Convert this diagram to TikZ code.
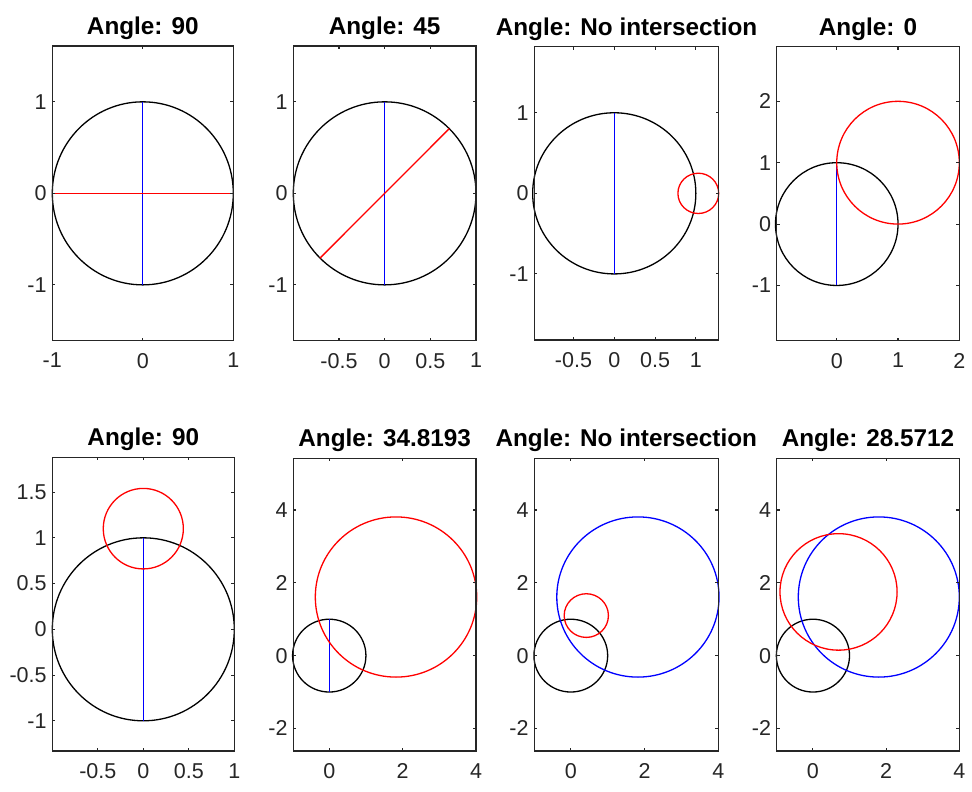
\documentclass[tikz,border=0pt]{standalone}
\usepackage{fontspec}
\setmainfont{Liberation Sans}
\definecolor{axgray}{RGB}{38,38,38}
\definecolor{pblue}{RGB}{0,0,255}
\definecolor{pred}{RGB}{255,0,0}
\tikzset{
  axbox/.style={draw=axgray, line width=1.1pt},
  ticklab/.style={inner sep=0pt, text=axgray, font=\fontsize{21.5}{22}\selectfont},
  titlelab/.style={inner sep=0pt, text=black, anchor=base, font=\fontsize{24.3}{25}\selectfont\bfseries},
  kcirc/.style={draw=black, line width=1.3pt},
  rcirc/.style={draw=pred, line width=1.3pt},
  bcirc/.style={draw=pblue, line width=1.3pt},
}
\newcommand{\setpanel}[8]{%
  \def\XA{#5}\def\XB{#6}\def\YA{#7}\def\YB{#8}%
  \pgfmathsetmacro\SX{((#2)-(#1))/((#6)-(#5))}%
  \pgfmathsetmacro\SY{((#4)-(#3))/((#8)-(#7))}%
  \pgfmathsetmacro\OX{(#1)-(#5)*\SX}%
  \pgfmathsetmacro\OY{(#4)+(#7)*\SY}%
}
\newcommand{\axesdecor}[4]{%
  \draw[axbox] (\XA,\YA) rectangle (\XB,\YB);
  \foreach \t [count=\i] in {#2} {
    \draw[axbox] (\t,\YA) -- ++(0pt,3pt);
    \draw[axbox] (\t,\YB) -- ++(0pt,-3pt);
    \node[ticklab, anchor=north, yshift=-12.3pt] (#1x\i) at (\t,\YA) {\t};
  }
  \foreach \t [count=\i] in {#3} {
    \draw[axbox] (\XA,\t) -- ++(3pt,0pt);
    \draw[axbox] (\XB,\t) -- ++(-3pt,0pt);
    \node[ticklab, anchor=east, xshift=-5.5pt] (#1y\i) at (\XA,\t) {\t};
  }
  \node[titlelab, yshift=11.4pt] (#1t) at ({(\XA+\XB)/2},\YB) {#4};
}
\begin{document}
\begin{tikzpicture}[x=1pt,y=-1pt]
\fill[white] (0,0) rectangle (972,792);
\useasboundingbox (0,0) rectangle (972,792);

% Panel 1
\setpanel{52.3}{233.3}{46}{340.7}{-1}{1}{-1.61}{1.61}
\begin{scope}[shift={(\OX,\OY)}, x=\SX pt, y=\SY pt]
  \draw[kcirc] (0,0) circle (1);
  \draw[bcirc] (0,-1) -- (0,1);
  \draw[rcirc] (-1,0) -- (1,0);
  \axesdecor{pa}{-1,0,1}{-1,0,1}{Angle: 90}
\end{scope}

% Panel 2
\setpanel{293.3}{476}{46}{340.7}{-1}{1}{-1.61}{1.61}
\begin{scope}[shift={(\OX,\OY)}, x=\SX pt, y=\SY pt]
  \draw[kcirc] (0,0) circle (1);
  \draw[bcirc] (0,-1) -- (0,1);
  \draw[rcirc] (-0.7071,-0.7071) -- (0.7071,0.7071);
  \axesdecor{pb}{-0.5,0,0.5,1}{-1,0,1}{Angle: 45}
\end{scope}

% Panel 3
\setpanel{534.3}{718.7}{46.7}{340}{-0.98}{1.28}{-1.82}{1.82}
\begin{scope}[shift={(\OX,\OY)}, x=\SX pt, y=\SY pt]
  \draw[kcirc] (0,0) circle (1);
  \draw[bcirc] (0,-1) -- (0,1);
  \draw[rcirc] (1.03,0) circle (0.25);
  \axesdecor{pc}{-0.5,0,0.5,1}{-1,0,1}{Angle: No intersection}
\end{scope}

% Panel 4
\setpanel{776.7}{959.3}{46.7}{340.7}{-0.98}{2}{-1.9}{2.89}
\begin{scope}[shift={(\OX,\OY)}, x=\SX pt, y=\SY pt]
  \draw[kcirc] (0,0) circle (1);
  \draw[bcirc] (0,-1) -- (0,1);
  \draw[rcirc] (1,1) circle (1);
  \axesdecor{pd}{0,1,2}{-1,0,1,2}{Angle: 0}
\end{scope}

% Panel 5
\setpanel{52.3}{234.3}{457.3}{751}{-1}{1}{-1.33}{1.88}
\begin{scope}[shift={(\OX,\OY)}, x=\SX pt, y=\SY pt]
  \draw[kcirc] (0,0) circle (1);
  \draw[bcirc] (0,-1) -- (0,1);
  \draw[rcirc] (0,1.1) circle (0.44);
  \axesdecor{pe}{-0.5,0,0.5,1}{-1,-0.5,0,0.5,1,1.5}{Angle: 90}
\end{scope}

% Panel 6
\setpanel{293.3}{476}{458.3}{751}{-0.98}{4}{-2.62}{5.42}
\begin{scope}[shift={(\OX,\OY)}, x=\SX pt, y=\SY pt]
  \draw[kcirc] (0,0) circle (1);
  \draw[bcirc] (0,-1) -- (0,1);
  \draw[rcirc] (1.82,1.61) circle (2.2);
  \axesdecor{pf}{0,2,4}{-2,0,2,4}{Angle: 34.8193}
\end{scope}

% Panel 7
\setpanel{534.3}{718.3}{458.3}{751}{-0.99}{4}{-2.62}{5.42}
\begin{scope}[shift={(\OX,\OY)}, x=\SX pt, y=\SY pt]
  \draw[kcirc] (0,0) circle (1);
  \draw[bcirc] (1.82,1.61) circle (2.2);
  \draw[rcirc] (0.42,1.1) circle (0.6);
  \axesdecor{pg}{0,2,4}{-2,0,2,4}{Angle: No intersection}
\end{scope}

% Panel 8
\setpanel{776.7}{959.3}{458.3}{751}{-0.99}{4}{-2.62}{5.42}
\begin{scope}[shift={(\OX,\OY)}, x=\SX pt, y=\SY pt]
  \draw[kcirc] (0,0) circle (1);
  \draw[bcirc] (1.8,1.61) circle (2.2);
  \draw[rcirc] (0.7,1.75) circle (1.6);
  \axesdecor{ph}{0,2,4}{-2,0,2,4}{Angle: 28.5712}
\end{scope}
\end{tikzpicture}
\end{document}
